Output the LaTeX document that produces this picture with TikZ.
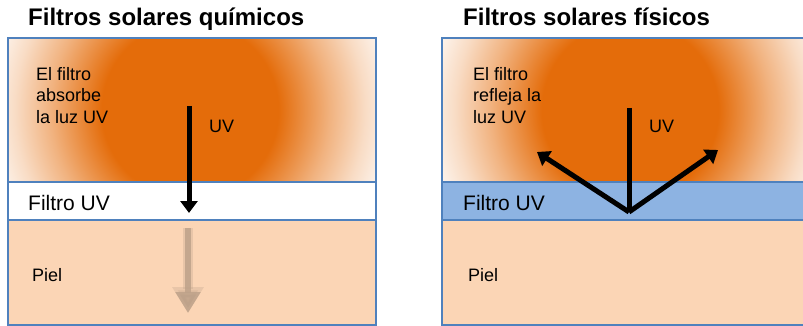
\documentclass[tikz,border=0pt]{standalone}
\usepackage{fontspec}
\setmainfont{Liberation Sans}
\usetikzlibrary{arrows.meta}

\definecolor{sunorange}{HTML}{E46C0A}
\definecolor{skin}{HTML}{FBD5B5}
\definecolor{filterblue}{HTML}{8DB3E2}
\definecolor{edgeblue}{HTML}{4F81BD}
\definecolor{fadedtan}{RGB}{190,162,138}

\pgfdeclareradialshading{glow}{\pgfpoint{0bp}{0bp}}{color(0bp)=(sunorange); color(9.6bp)=(sunorange); color(15.2bp)=(sunorange!52!white); color(19bp)=(sunorange!24!white); color(22bp)=(sunorange!7!white); color(25bp)=(white); color(50bp)=(white)}

\begin{document}
\begin{tikzpicture}[x=1pt,y=-1pt]

      \tikzset{layer/.style={draw=edgeblue, line width=1.6pt},
               heading/.style={anchor=base west, inner sep=0pt, font=\fontsize{24}{27}\selectfont\bfseries},
               txt/.style={anchor=base west, inner sep=0pt, font=\fontsize{18}{21.5}\selectfont},
               bigtxt/.style={anchor=base west, inner sep=0pt, font=\fontsize{21}{24}\selectfont},
               ray/.style={line width=5pt, line join=round},
               raytip/.style={-{Triangle[width=17pt,length=12pt]}}}
      \useasboundingbox (0,0) rectangle (803,326);

% Left panel: chemical filter
      	\path[fill=white] (8,38) rectangle (376,182);
      	\begin{scope}
      	  \clip (8,38) rectangle (376,182);
      	  \shade[shading=glow] (190,110) circle (230);
      	\end{scope}
      	\path[fill=white] (8,182) rectangle (376,220);
      	\path[fill=skin] (8,220) rectangle (376,325);
      	\draw[layer] (8,38) rectangle (376,182);
      	\draw[layer] (8,182) rectangle (376,220);
      	\draw[layer] (8,220) rectangle (376,325);

% Right panel: physical filter
      	\path[fill=white] (442,38) rectangle (812,182);
      	\begin{scope}
      	  \clip (442,38) rectangle (812,182);
      	  \shade[shading=glow] (630,110) circle (230);
      	\end{scope}
      	\path[fill=filterblue] (442,182) rectangle (812,220);
      	\path[fill=skin] (442,220) rectangle (812,325);
      	\draw[layer] (442,38) rectangle (812,182);
      	\draw[layer] (442,182) rectangle (812,220);
      	\draw[layer] (442,220) rectangle (812,325);

% Texts
      	\node[heading] (chemtitle) at (28,26) {Filtros solares químicos};
      	\node[heading] (phystitle) at (463,26) {Filtros solares físicos};
      	\node[txt, anchor=north west, align=left] (absorbs) at (36,67) {El filtro\\absorbe\\la luz UV};
      	\node[txt, anchor=north west, align=left] (reflects) at (473,67) {El filtro\\refleja la\\luz UV};
      	\node[txt] (uvchem) at (209,133) {UV};
      	\node[txt] (uvphys) at (649,133) {UV};
      	\node[bigtxt] (filterchem) at (28,210) {Filtro UV};
      	\node[bigtxt] (filterphys) at (463,210) {Filtro UV};
      	\node[txt] (skinchem) at (32,281) {Piel};
      	\node[txt] (skinphys) at (468,281) {Piel};

% Rays
      	\coordinate (intop) at (189,106);
      	\coordinate (inend) at (189,213);
      	\coordinate (fadetop) at (188,228);
      	\coordinate (fadeend) at (188,313);
      	\coordinate (reftop) at (629,108);
      	\coordinate (refhit) at (629,212);
      	\coordinate (refleft) at (537,152);
      	\coordinate (refright) at (718,150);

		\draw[fadedtan, opacity=.3, line width=10pt, -{Triangle[width=30pt,length=26pt]}] (fadetop) -- (fadeend);
		\draw[fadedtan, opacity=.85, line width=6pt, -{Triangle[width=24pt,length=21pt]}] (fadetop) -- (fadeend);
		\draw[ray, raytip] (intop) -- (inend);
		\draw[ray] (reftop) -- (refhit);
		\draw[ray, raytip] (refhit) -- (refleft);
		\draw[ray, raytip] (refhit) -- (refright);


	\end{tikzpicture}
\end{document}
